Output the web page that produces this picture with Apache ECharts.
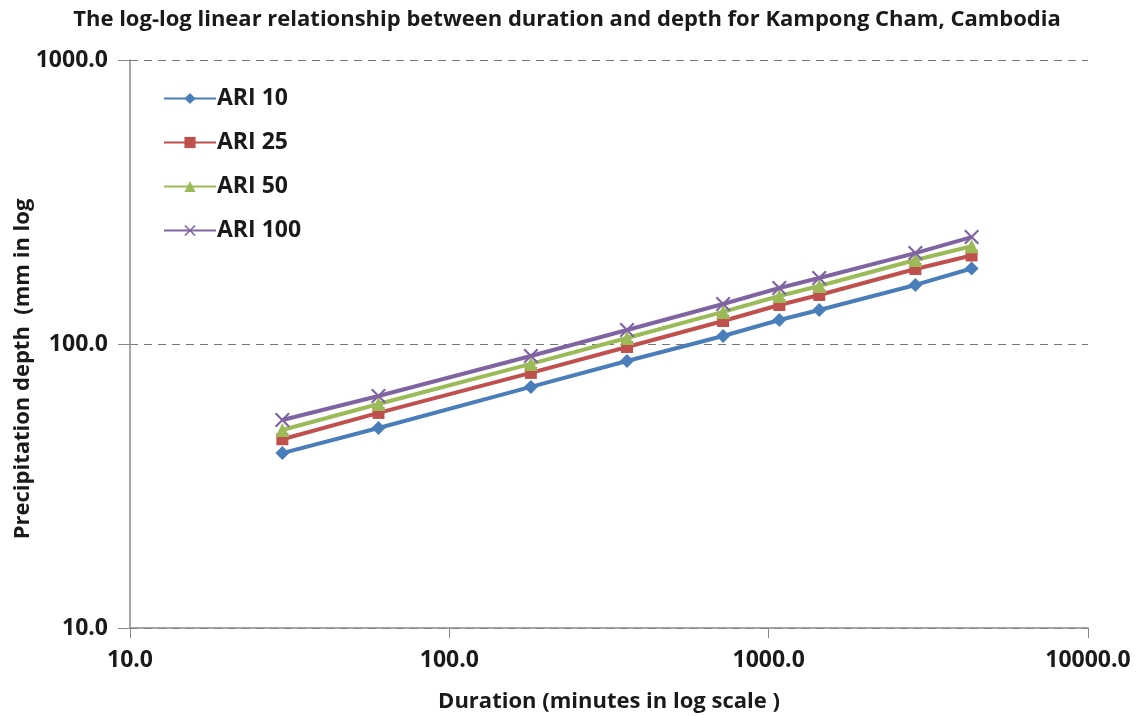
<!DOCTYPE html>
<html>
<head>
<meta charset="utf-8">
<script src="https://cdn.jsdelivr.net/npm/echarts@6/dist/echarts.min.js"></script>
<style>
  html, body { margin: 0; padding: 0; background: #fff; }
  #chart { width: 1137px; height: 716px; }
</style>
</head>
<body>
<div id="chart"></div>
<script>
// durations in minutes
const durations = [30, 60, 180, 360, 720, 1080, 1440, 2880, 4320];
// precipitation depth (mm)
const ari10 = [41.3, 50.6, 70.6, 87.1, 106.7, 121.5, 131.8, 161.4, 184.5];
const ari25 = [46.2, 57.2, 79.1, 97.6, 120.5, 137.2, 148.8, 183.7, 205.0];
const ari50 = [49.8, 61.5, 85.1, 105.0, 129.7, 147.6, 160.0, 197.6, 221.0];
const ari100 = [54.0, 65.6, 90.7, 112.0, 138.3, 157.5, 170.8, 209.0, 238.0];

const seriesNames = ['ARI 10', 'ARI 25', 'ARI 50', 'ARI 100'];
const colors = ['#4A7EBB', '#C0504D', '#9BBB59', '#8064A2'];
const crossPath = 'path://M0,1L1,0L5,4L9,0L10,1L6,5L10,9L9,10L5,6L1,10L0,9L4,5Z';
const symbols = ['diamond', 'rect', 'triangle', crossPath];
const symbolSizes = [14, 12, 14, 15];

const font = '"Open Sans", "Noto Sans", sans-serif';
const txt = { fontFamily: font, fontWeight: 'bold', color: '#1a1a1a' };

const chart = echarts.init(document.getElementById('chart'));

const makeSeries = (name, vals, i) => ({
    name: name,
    type: 'line',
    data: durations.map((d, k) => [d, vals[k]]),
    symbol: symbols[i],
    symbolSize: symbolSizes[i],
    showAllSymbol: true,
    lineStyle: { width: 4, color: colors[i] },
    itemStyle: { color: colors[i] },
    z: 2 + i
});

const option = {
    backgroundColor: '#fff',
    color: colors,
    title: {
        text: 'The log-log linear relationship between duration and depth for Kampong Cham, Cambodia',
        left: 562,
        top: 4,
        textAlign: 'center',
        textStyle: Object.assign({ fontSize: 22 }, txt)
    },
    legend: {
        orient: 'vertical',
        left: 158,
        top: 82,
        itemGap: 21,
        itemWidth: 52,
        itemHeight: 14,
        textStyle: Object.assign({ fontSize: 23, padding: [0, 0, 0, -4] }, txt),
        data: seriesNames
    },
    grid: { left: 130, right: 49, top: 60, bottom: 88, containLabel: false, outerBoundsMode: 'none' },
    xAxis: {
        type: 'log',
        logBase: 10,
        min: 10,
        max: 10000,
        name: 'Duration (minutes in log scale )',
        nameLocation: 'middle',
        nameGap: 63,
        nameMoveOverlap: false,
        nameTextStyle: Object.assign({ fontSize: 22 }, txt),
        axisLine: { lineStyle: { color: '#888', width: 1.5 } },
        axisTick: { show: true, length: 10, lineStyle: { color: '#888' } },
        minorTick: { show: false },
        splitLine: { show: false },
        axisLabel: Object.assign({
            fontSize: 23, margin: 21,
            formatter: v => v.toFixed(1)
        }, txt)
    },
    yAxis: {
        type: 'log',
        logBase: 10,
        min: 10,
        max: 1000,
        name: 'Precipitation depth  (mm in log',
        nameLocation: 'middle',
        nameGap: 96,
        nameRotate: 90,
        nameMoveOverlap: false,
        nameTextStyle: Object.assign({ fontSize: 22, padding: [0, 0, 0, -50] }, txt),
        axisLine: { show: true, lineStyle: { color: '#888', width: 1.5 } },
        axisTick: { show: true, length: 12, lineStyle: { color: '#888' } },
        splitLine: { show: true, lineStyle: { color: '#777', type: [8, 6], width: 1.2 } },
        axisLabel: Object.assign({
            fontSize: 23, margin: 22,
            formatter: v => v.toFixed(1)
        }, txt)
    },
    series: [
        makeSeries(seriesNames[0], ari10, 0),
        makeSeries(seriesNames[1], ari25, 1),
        makeSeries(seriesNames[2], ari50, 2),
        makeSeries(seriesNames[3], ari100, 3)
    ]
};

chart.setOption(option);
window.addEventListener('resize', function () {
    chart.resize();
});
</script>
</body>
</html>
